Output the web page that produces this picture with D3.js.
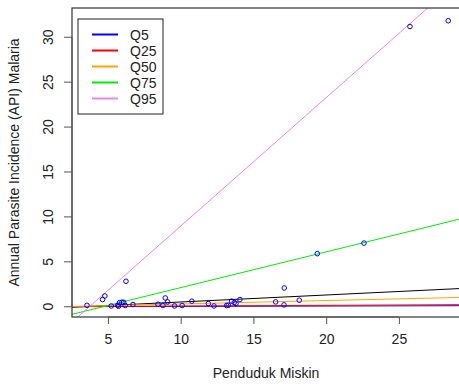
<!DOCTYPE html>
<html lang="en">
<head>
<meta charset="UTF-8">
<title>Quantile regression API Malaria</title>
<script src="https://cdn.jsdelivr.net/npm/d3@7"></script>
<style>
  body { margin: 0; background: #fff; }
  svg { display: block; font-family: "Liberation Sans", Arial, sans-serif; }
</style>
</head>
<body>
<svg id="chart" width="459" height="387"></svg>
<script>
// data
const miskin = [3.56, 4.63, 4.79, 6.24, 5.23, 5.67, 5.8, 5.96, 6.08, 5.73, 6.19, 6.72,
  8.44, 8.94, 9.1, 8.78, 9.58, 10.1, 10.77, 11.9, 12.29, 13.16, 13.27, 13.5, 13.68,
  13.8, 14.07, 16.53, 17.12, 17.1, 18.15, 19.39, 22.6, 25.76, 28.39];
const api = [0.1, 0.74, 1.14, 2.78, 0.03, 0.1, 0.4, 0.44, 0.44, 0, 0.08, 0.19,
  0.22, 0.92, 0.48, 0.08, 0.03, 0.08, 0.56, 0.3, 0.03, 0.08, 0.11, 0.56, 0.41,
  0.3, 0.74, 0.48, 2.03, 0.15, 0.67, 5.85, 7.03, 31.14, 31.78];

// fitted lines: intercept / slope
const lineNames = ["OLS", "Q5", "Q25", "Q50", "Q75", "Q95"];
const lineColors = ["black", "blue", "red", "orange", "#00ee00", "violet"];
const intercepts = [-0.31, -0.06, -0.06, -0.12, -1.91, -5.38];
const slopes = [0.078, 0.004, 0.008, 0.0376, 0.398, 1.43];

const legendNames = ["Q5", "Q25", "Q50", "Q75", "Q95"];
const legendColors = ["blue", "red", "orange", "#00ee00", "violet"];

const xTicks = [5, 10, 15, 20, 25];
const yTicks = [0, 5, 10, 15, 20, 25, 30];

const svg = d3.select('#chart');
const pLeft = 72, pRight = 460, pTop = 8, pBottom = 317;

const x = d3.scaleLinear().domain([2.53, 29.2]).range([pLeft, pRight]);
const y = d3.scaleLinear().domain([-1.2, 33.2]).range([pBottom, pTop]);

svg.append('clipPath').attr('id', 'plotclip')
  .append('rect').attr('x', pLeft).attr('y', pTop)
  .attr('width', pRight - pLeft).attr('height', pBottom - pTop);

// fitted lines (drawn first so the points sit on top)
const lines = svg.append('g').attr('clip-path', 'url(#plotclip)');
lineNames.forEach((n, i) => {
  const x0 = x.domain()[0], x1 = x.domain()[1];
  lines.append('line')
    .attr('x1', x(x0)).attr('y1', y(intercepts[i] + slopes[i] * x0))
    .attr('x2', x(x1)).attr('y2', y(intercepts[i] + slopes[i] * x1))
    .attr('stroke', lineColors[i])
    .attr('stroke-width', 1);
});

// points
svg.append('g').selectAll('circle')
  .data(miskin)
  .enter().append('circle')
  .attr('cx', d => x(d))
  .attr('cy', (d, i) => y(api[i]))
  .attr('r', 2.3)
  .attr('fill', 'none')
  .attr('stroke', 'blue')
  .attr('stroke-width', 1);

// box
svg.append('rect')
  .attr('x', pLeft).attr('y', pTop)
  .attr('width', pRight - pLeft).attr('height', pBottom - pTop)
  .attr('fill', 'none').attr('stroke', '#333').attr('stroke-width', 1.2);

// axes
const xAxis = d3.axisBottom(x).tickValues(xTicks).tickSize(7).tickPadding(10).tickSizeOuter(0);
const gx = svg.append('g').attr('transform', `translate(0,${pBottom})`).call(xAxis);
gx.select('.domain').attr('d', `M${x(5)},0H${x(25)}`).attr('stroke', '#555');
gx.selectAll('.tick line').attr('stroke', '#555');
gx.selectAll('text').attr('font-size', 14).attr('fill', '#222')
  .attr('font-family', '"Liberation Sans", Arial, sans-serif');

const yAxis = d3.axisLeft(y).tickValues(yTicks).tickSize(8).tickSizeOuter(0);
const gy = svg.append('g').attr('transform', `translate(${pLeft},0)`).call(yAxis);
gy.select('.domain').attr('d', `M0,${y(0)}V${y(30)}`).attr('stroke', '#555');
gy.selectAll('.tick line').attr('stroke', '#555');
gy.selectAll('text')
  .attr('font-size', 14).attr('fill', '#222')
  .attr('font-family', '"Liberation Sans", Arial, sans-serif')
  .attr('x', 0).attr('dy', 0)
  .attr('text-anchor', 'middle')
  .attr('transform', 'translate(-19,0) rotate(-90)');

// axis titles
svg.append('text')
  .attr('x', (pLeft + pRight) / 2).attr('y', 378)
  .attr('text-anchor', 'middle').attr('font-size', 14).attr('fill', '#222')
  .text('Penduduk Miskin');

svg.append('text')
  .attr('transform', `translate(19,${(pTop + pBottom) / 2}) rotate(-90)`)
  .attr('text-anchor', 'middle').attr('font-size', 14).attr('fill', '#222')
  .text('Annual Parasite Incidence (API) Malaria');

// legend
const lg = svg.append('g');
lg.append('rect').attr('x', 78).attr('y', 19).attr('width', 85).attr('height', 95)
  .attr('fill', 'white').attr('stroke', '#222').attr('stroke-width', 1);
legendNames.forEach((n, i) => {
  const yy = 34.5 + i * 16;
  lg.append('line').attr('x1', 92).attr('x2', 118).attr('y1', yy).attr('y2', yy)
    .attr('stroke', legendColors[i]).attr('stroke-width', 2);
  lg.append('text').attr('x', 130).attr('y', yy + 5)
    .attr('font-size', 14).attr('fill', '#222').text(n);
});
</script>
</body>
</html>
